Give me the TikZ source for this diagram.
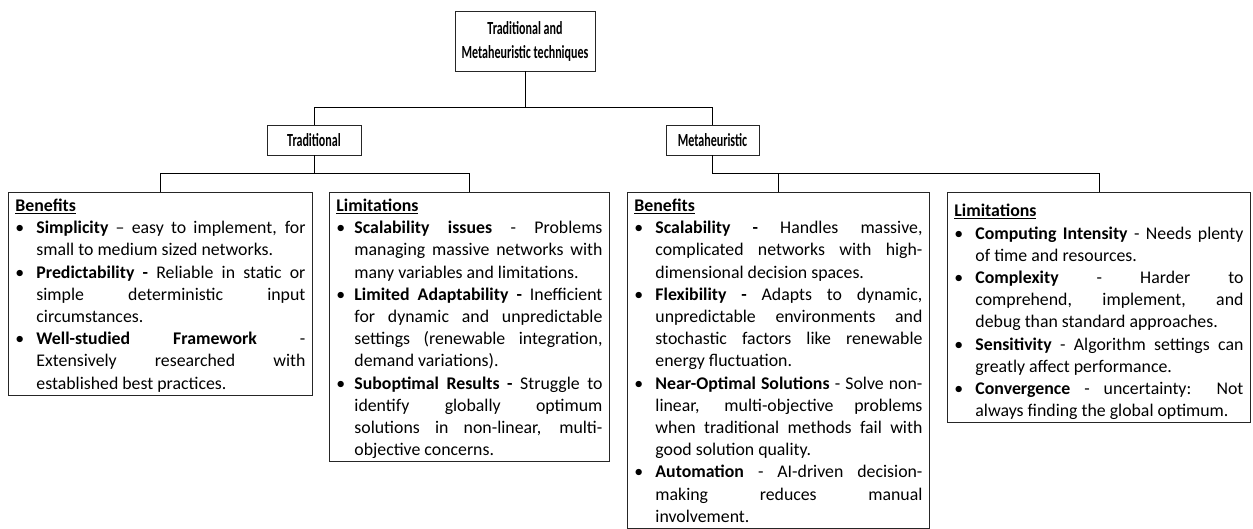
\documentclass[tikz,border=0pt]{standalone}
\usepackage{fontspec}
\setmainfont{Carlito}
\usepackage{graphicx}

% compact bullet list: bullet flush with the text block, items indented by #1
\newenvironment{bul}[1][21pt]{%
  \begin{list}{\textbullet}{%
    \setlength{\leftmargin}{#1}\setlength{\labelwidth}{#1}%
    \setlength{\labelsep}{0pt}\setlength{\itemindent}{0pt}%
    \setlength{\itemsep}{0pt}\setlength{\parsep}{0pt}%
    \setlength{\topsep}{0pt}\setlength{\partopsep}{0pt}%
    \setlength{\listparindent}{0pt}%
    \renewcommand{\makelabel}[1]{##1\hfil}}}%
  {\end{list}}

\newcommand{\hd}[1]{\scalebox{0.65}[1]{\bfseries #1}}
\newcommand{\botstrut}{\rule[-4.5pt]{0pt}{4.5pt}}
% underlined card title; the optional height sets the room above it
\newcommand{\ttl}[2][17.5pt]{\rule{0pt}{#1}\underline{\textbf{#2}}\par}

\tikzset{
  card/.style={draw=black!85, line width=0.9pt, anchor=north west,
    inner xsep=7pt, inner ysep=1.5pt, align=justify,
    font=\fontsize{17.8}{22.2}\selectfont},
  hdbox/.style={draw=black!85, line width=0.9pt, inner sep=0pt, align=center,
    font=\fontsize{18.5}{24}\selectfont},
  link/.style={draw=black, line width=0.9pt}
}

\begin{document}
\tolerance=10000
\hyphenpenalty=10000
\begin{tikzpicture}[x=1pt, y=-1pt]
\useasboundingbox (0,0) rectangle (1253,529);

% hierarchy heads
\node[hdbox, minimum width=140pt, minimum height=60pt] (root) at (525,41)
  {\hd{Traditional and}\\\hd{Metaheuristic techniques}};
\node[hdbox, minimum width=94pt, minimum height=30pt] (trad) at (314,140) {\hd{Traditional}};
\node[hdbox, minimum width=93pt, minimum height=30pt] (meta) at (712.5,140) {\hd{Metaheuristic}};

% detail cards
\node[card, text width=290pt] (tb) at (8,192) {%
  \ttl{Benefits}
  \begin{bul}
  \item \textbf{Simplicity} – easy to implement, for\linebreak small to medium sized networks.
  \item \textbf{Predictability -} Reliable in static or\linebreak simple deterministic input\linebreak circumstances.
  \item \textbf{Well-studied Framework} -\linebreak Extensively researched with\linebreak established best practices.\botstrut
  \end{bul}};

\node[card, text width=266pt] (tl) at (329,192) {%
  \ttl{Limitations}
  \begin{bul}[18pt]
  \item \textbf{Scalability issues} - Problems\linebreak managing massive networks with\linebreak many variables and limitations.
  \item \textbf{Limited Adaptability -} Inefficient\linebreak for dynamic and unpredictable\linebreak settings (renewable integration,\linebreak demand variations).
  \item \textbf{Suboptimal Results -} Struggle to\linebreak identify globally optimum\linebreak solutions in non-linear, multi-\linebreak objective concerns.\botstrut
  \end{bul}};

\node[card, text width=288pt] (mb) at (627,192) {%
  \ttl{Benefits}
  \begin{bul}
  \item \textbf{Scalability -} Handles massive,\linebreak complicated networks with high-\linebreak dimensional decision spaces.
  \item \textbf{Flexibility -} Adapts to dynamic,\linebreak unpredictable environments and\linebreak stochastic factors like renewable\linebreak energy fluctuation.
  \item \textbf{Near-Optimal Solutions} - Solve non-\linebreak linear, multi-objective problems\linebreak when traditional methods fail with\linebreak good solution quality.
  \item \textbf{Automation} - AI-driven decision-\linebreak making reduces manual\linebreak involvement.\botstrut
  \end{bul}};

\node[card, text width=289pt] (ml) at (947,192) {%
  \ttl[23pt]{Limitations}
  \begin{bul}
  \item \textbf{Computing Intensity} - Needs plenty\linebreak of time and resources.
  \item \textbf{Complexity} - Harder to\linebreak comprehend, implement, and\linebreak debug than standard approaches.
  \item \textbf{Sensitivity} - Algorithm settings can\linebreak greatly affect performance.
  \item \textbf{Convergence} - uncertainty: Not\linebreak always finding the global optimum.\botstrut
  \end{bul}};

% elbow connectors
\coordinate (r1) at (0,107);
\coordinate (r2) at (0,173);
\draw[link] (root.south) -- (root.south |- r1) -| (trad.north);
\draw[link] (root.south |- r1) -| (meta.north);
\draw[link] (trad.south) -- (trad.south |- r2) -| (tb.north);
\draw[link] (trad.south |- r2) -| (tl.north);
\draw[link] (meta.south) -- (meta.south |- r2) -| (mb.north);
\draw[link] (meta.south |- r2) -| (ml.north);
\end{tikzpicture}
\end{document}
